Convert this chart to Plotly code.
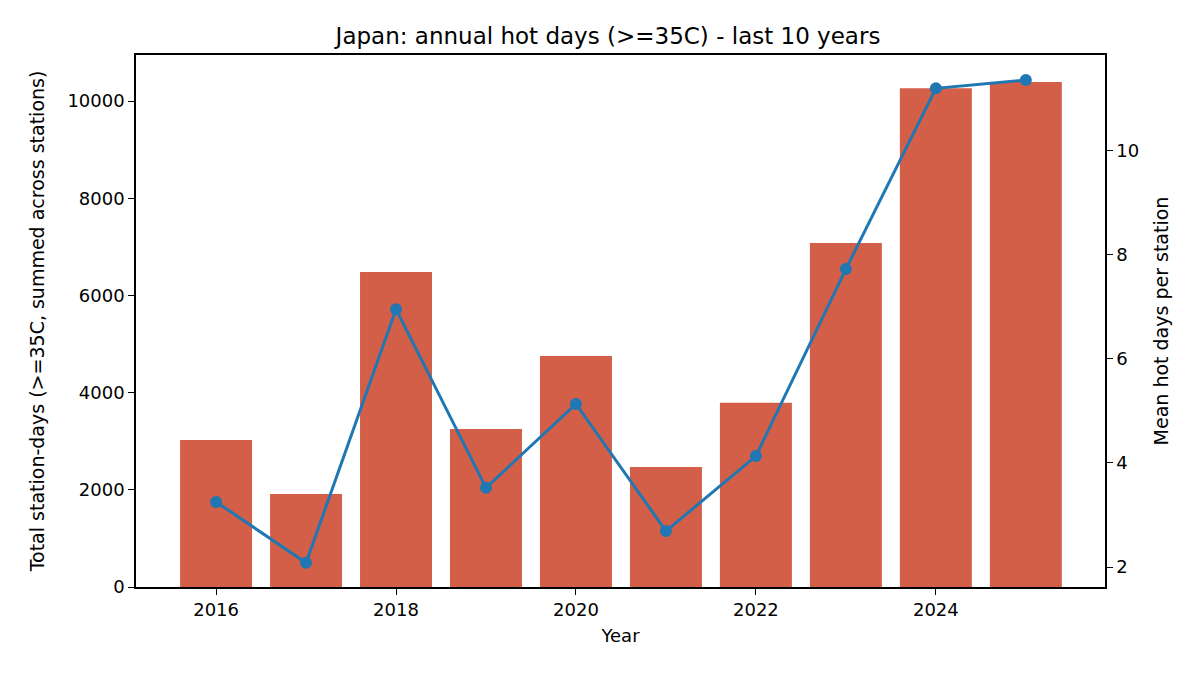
import plotly.graph_objects as go

# Daten
years = [2016, 2017, 2018, 2019, 2020, 2021, 2022, 2023, 2024, 2025]
total_station_days = [3025, 1915, 6480, 3250, 4755, 2470, 3790, 7080, 10265, 10390]
mean_hot_days = [3.25, 2.08, 6.95, 3.52, 5.13, 2.69, 4.13, 7.72, 11.19, 11.35]

left_ticks = [0, 2000, 4000, 6000, 8000, 10000]
right_ticks = [2, 4, 6, 8, 10]
year_ticks = [2016, 2018, 2020, 2022, 2024]

FONT = "DejaVu Sans, sans-serif"

fig = go.Figure()

fig.add_trace(go.Bar(
    x=years, y=total_station_days, width=0.8,
    marker=dict(color="#d35f48", line=dict(width=0)),
    name="Total station-days", yaxis="y",
))

fig.add_trace(go.Scatter(
    x=years, y=mean_hot_days, mode="lines+markers",
    line=dict(color="#1f77b4", width=3),
    marker=dict(size=12, color="#1f77b4"),
    name="Mean hot days per station", yaxis="y2",
))

axis_common = dict(
    showline=True, linecolor="black", linewidth=1.5, mirror=False,
    ticks="outside", ticklen=6, tickwidth=1.2, tickcolor="black",
    showgrid=False, zeroline=False,
    tickfont=dict(size=18, color="black", family=FONT),
)

fig.update_layout(
    width=1200, height=675,
    paper_bgcolor="white", plot_bgcolor="white",
    font=dict(family=FONT, color="black"),
    showlegend=False,
    margin=dict(l=128, r=103, t=47, b=96),
    title=dict(text="Japan: annual hot days (>=35C) - last 10 years",
               x=0.5, xanchor="center", y=0.958, yanchor="middle",
               font=dict(size=23, family=FONT, color="black")),
    xaxis=dict(axis_common, range=[2015.11, 2025.88], tickvals=year_ticks,
               title=dict(text="Year", font=dict(size=18, family=FONT), standoff=10),
               mirror=True),
    yaxis=dict(axis_common, range=[0, 10947], tickvals=left_ticks,
               ticktext=[str(v) for v in left_ticks],
               title=dict(text="Total station-days (>=35C, summed across stations)",
                          font=dict(size=19, family=FONT), standoff=18)),
    yaxis2=dict(axis_common, overlaying="y", side="right", range=[1.616, 11.83],
                tickvals=right_ticks,
                title=dict(text="Mean hot days per station", font=dict(size=19, family=FONT), standoff=16)),
    bargap=0.2,
)

fig.write_html("out.html")
